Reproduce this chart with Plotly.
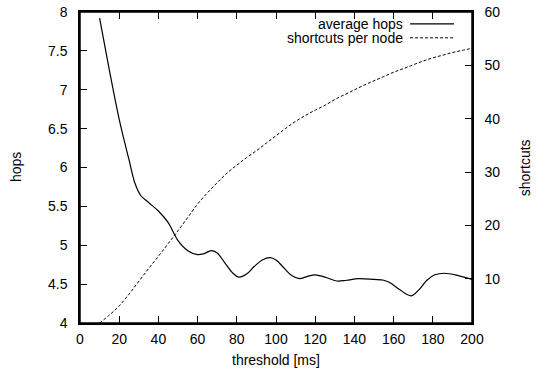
import plotly.graph_objects as go

# threshold [ms] and average hop count
hops_threshold = [10, 15, 20, 25, 28, 31, 35, 40, 45, 50, 55, 60, 63, 67, 70, 74, 78, 81,
                  85, 89, 93, 97, 100, 104, 108, 112, 116, 120, 125, 131, 136, 142, 150,
                  155, 158, 163, 169, 173, 177, 181, 186, 193, 200]
avg_hops = [7.92, 7.25, 6.62, 6.10, 5.80, 5.64, 5.55, 5.44, 5.29, 5.06, 4.93, 4.88, 4.89,
            4.93, 4.90, 4.77, 4.64, 4.59, 4.63, 4.73, 4.81, 4.84, 4.81, 4.71, 4.61, 4.57,
            4.60, 4.62, 4.59, 4.54, 4.55, 4.57, 4.56, 4.55, 4.52, 4.43, 4.35, 4.43, 4.55,
            4.62, 4.64, 4.61, 4.56]

# threshold [ms] and shortcuts per node
sc_threshold = [10, 15, 20, 25, 30, 35, 40, 45, 50, 55, 60, 65, 70, 75, 80, 85, 90, 95,
                100, 105, 110, 115, 120, 125, 130, 135, 140, 145, 150, 155, 160, 165, 170,
                175, 180, 185, 190, 195, 200]
shortcuts = [1.7, 3.2, 4.9, 7.1, 9.5, 11.9, 14.2, 16.6, 19.0, 21.5, 24.0, 26.1, 28.0, 29.8,
             31.3, 32.7, 34.0, 35.4, 36.8, 38.2, 39.5, 40.6, 41.6, 42.5, 43.6, 44.5, 45.4,
             46.3, 47.1, 47.9, 48.7, 49.4, 50.1, 50.8, 51.4, 51.9, 52.4, 52.8, 53.2]

x_ticks = [0, 20, 40, 60, 80, 100, 120, 140, 160, 180, 200]
y_ticks = [4, 4.5, 5, 5.5, 6, 6.5, 7, 7.5, 8]
y2_ticks = [10, 20, 30, 40, 50, 60]

FONT = "Liberation Sans, Arial, sans-serif"

fig = go.Figure()
fig.add_trace(go.Scatter(x=hops_threshold, y=avg_hops, mode="lines",
                         line=dict(color="black", width=1.2, shape="spline", smoothing=1.0),
                         name="average hops", showlegend=False))
fig.add_trace(go.Scatter(x=sc_threshold, y=shortcuts, mode="lines", yaxis="y2",
                         line=dict(color="black", width=1, dash="3px,2px", shape="spline"),
                         name="shortcuts per node", showlegend=False))

axis_common = dict(showgrid=False, zeroline=False, showline=True, linecolor="black",
                   linewidth=1.5, ticks="inside", ticklen=7, tickwidth=1.2,
                   tickcolor="black", automargin=False,
                   tickfont=dict(family=FONT, size=14, color="black"))

fig.update_layout(
    width=537, height=370,
    margin=dict(l=80, r=65, t=12, b=47, autoexpand=False),
    paper_bgcolor="white", plot_bgcolor="white",
    font=dict(family=FONT, size=14, color="black"),
    xaxis=dict(range=[0, 200], tickvals=x_ticks, mirror="ticks",
               ticklabelstandoff=2, **axis_common),
    yaxis=dict(range=[4, 8], tickvals=y_ticks, ticktext=[f"{v:g}" for v in y_ticks],
               ticklabelstandoff=8, **axis_common),
    yaxis2=dict(range=[1.7, 60], tickvals=y2_ticks, overlaying="y", side="right",
                ticklabelstandoff=8, **axis_common),
    showlegend=False,
)

# plot frame drawn on top of everything
fig.add_shape(type="rect", xref="paper", yref="paper", x0=0, x1=1, y0=0, y1=1,
              line=dict(color="black", width=1.5), fillcolor="rgba(0,0,0,0)",
              layer="above")

# axis titles
fig.add_annotation(text="threshold [ms]", xref="paper", yref="paper", x=0.5, y=-0.12,
                   showarrow=False, font=dict(size=14), yanchor="middle")
fig.add_annotation(text="hops", xref="paper", yref="paper", x=-0.19, y=0.5,
                   textangle=-90, showarrow=False, font=dict(size=14))
fig.add_annotation(text="shortcuts", xref="paper", yref="paper", x=1.16, y=0.5,
                   textangle=-90, showarrow=False, font=dict(size=14))

# key in the upper right corner: label followed by a line sample
key = [("average hops", 0.962, None), ("shortcuts per node", 0.917, "3px,2px")]
for label, ky, dash in key:
    fig.add_annotation(text=label, xref="paper", yref="paper", x=0.829, y=ky,
                       xanchor="right", yanchor="middle", showarrow=False,
                       font=dict(size=14))
    fig.add_shape(type="line", xref="paper", yref="paper", x0=0.842, x1=0.954,
                  y0=ky, y1=ky, line=dict(color="black", width=1.2 if dash is None else 1,
                                          dash=dash if dash else "solid"))

fig.write_html("out.html")
